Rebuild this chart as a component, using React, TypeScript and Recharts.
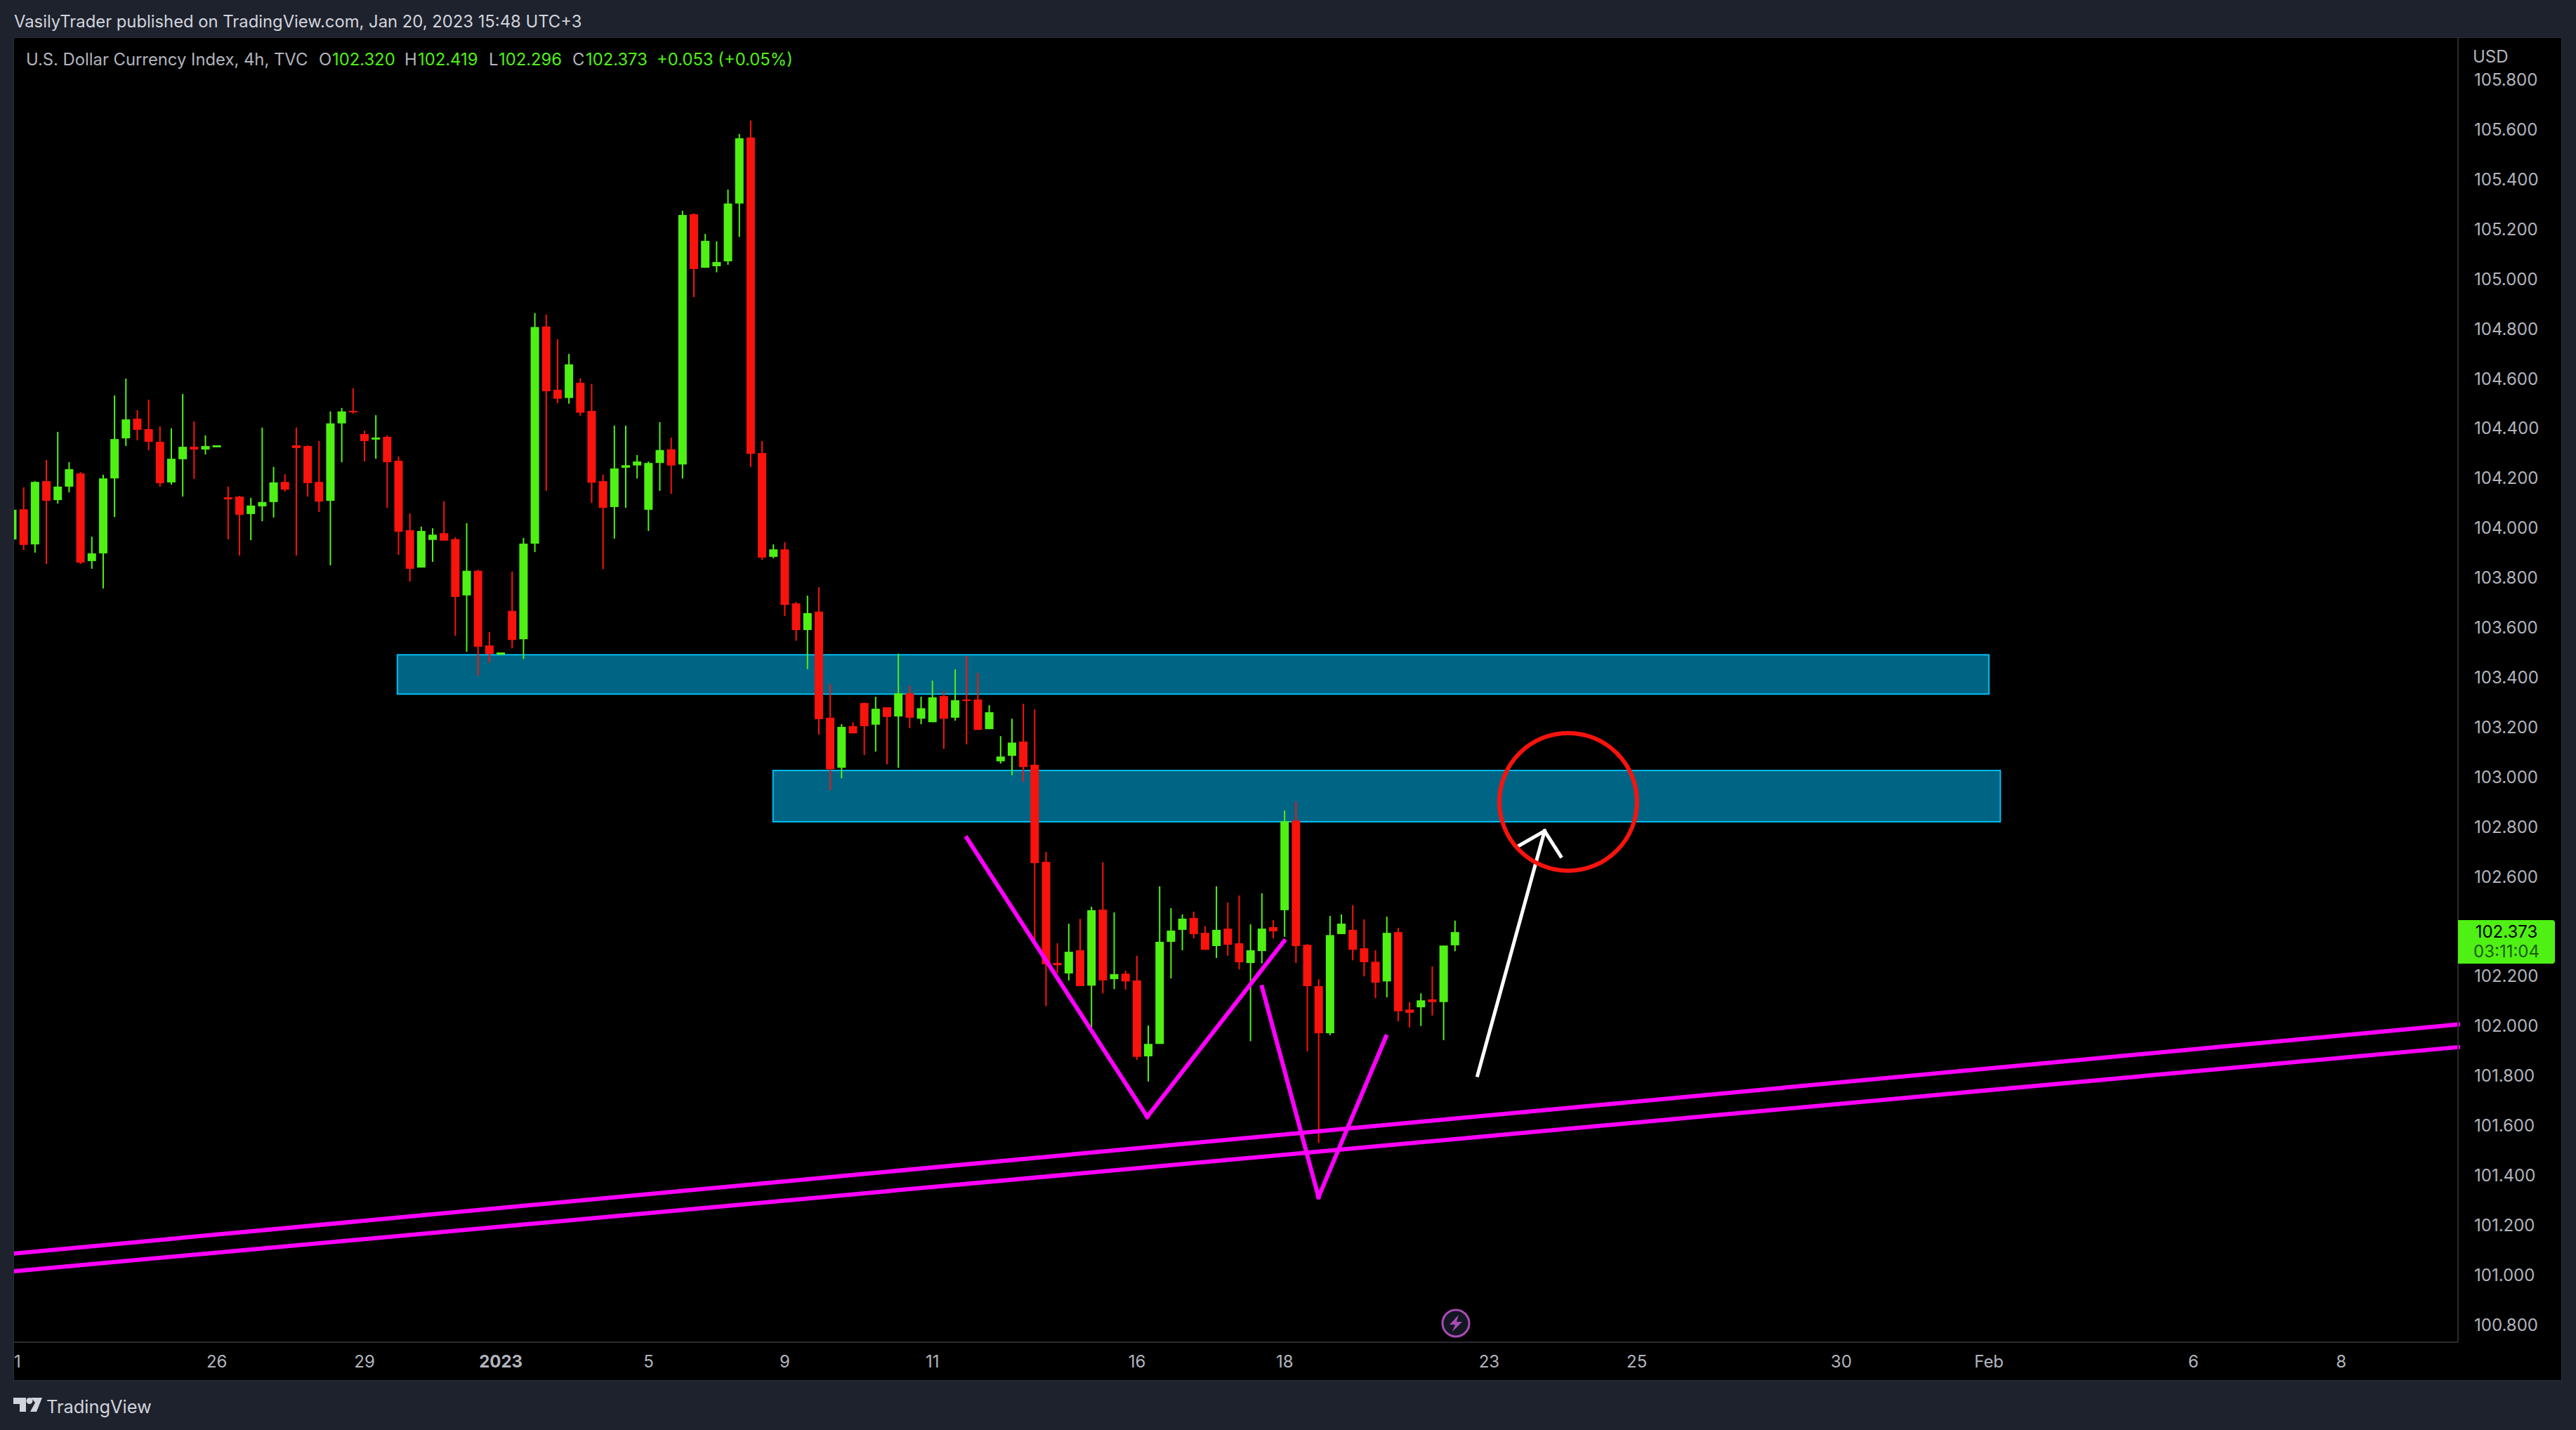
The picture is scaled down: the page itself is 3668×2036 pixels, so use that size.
import React from 'react';
import {
  ComposedChart, Bar, XAxis, YAxis, ReferenceArea, ReferenceLine, ReferenceDot
} from 'recharts';

// 4h candles
const opens = [
  103.950,104.071,103.930,104.184,104.108,104.162,104.215,103.863,103.894,104.195,
  104.356,104.435,104.393,104.342,104.179,104.272,104.322,104.311,104.320,104.119,
  104.122,104.052,104.083,104.100,104.181,104.328,104.325,104.181,104.105,104.416,
  104.466,104.373,104.351,104.362,104.266,103.987,103.837,103.948,103.975,103.951,
  103.725,103.824,103.524,103.487,103.663,103.549,103.933,104.805,104.551,104.518,
  104.579,104.466,104.184,104.080,104.238,104.247,104.069,104.257,104.312,104.251,
  105.256,105.041,105.047,105.067,105.299,105.564,104.297,103.880,103.910,103.693,
  103.586,103.660,103.234,103.033,103.200,103.293,103.206,103.276,103.239,103.332,
  103.230,103.216,103.321,103.234,103.307,103.307,103.188,103.059,103.081,103.138,
  103.045,102.655,102.249,102.207,102.300,102.158,102.463,102.184,102.206,102.179,
  101.874,101.924,102.334,102.382,102.430,102.370,102.317,102.387,102.328,102.249,
  102.297,102.393,102.461,102.821,102.322,102.156,101.967,102.365,102.382,102.308,
  102.254,102.175,102.373,102.062,102.071,102.103,102.092,102.320,
];
const highs = [
  104.069,104.159,104.184,104.269,104.382,104.260,104.221,103.961,104.210,104.528,
  104.596,104.469,104.511,104.404,104.396,104.534,104.424,104.368,104.328,104.162,
  104.125,104.117,104.399,104.241,104.212,104.399,104.328,104.345,104.464,104.478,
  104.557,104.387,104.449,104.368,104.283,104.054,104.001,103.995,104.103,103.959,
  104.015,103.828,103.578,103.496,103.821,103.956,104.859,104.853,104.754,104.695,
  104.597,104.574,104.210,104.407,104.407,104.289,104.263,104.421,104.359,105.270,
  105.259,105.177,105.147,105.355,105.578,105.632,104.345,103.930,103.939,103.699,
  103.724,103.758,103.369,103.208,103.216,103.295,103.318,103.276,103.491,103.363,
  103.318,103.383,103.339,103.428,103.482,103.414,103.284,103.160,103.230,103.290,
  103.267,102.695,102.328,102.407,102.426,102.475,102.653,102.452,102.218,102.278,
  101.998,102.557,102.469,102.444,102.455,102.396,102.557,102.492,102.520,102.404,
  102.529,102.421,102.861,102.897,102.325,102.184,102.438,102.444,102.481,102.424,
  102.300,102.435,102.390,102.092,102.127,102.235,102.319,102.419,
];
const lows = [
  103.950,103.908,103.897,103.851,104.094,104.139,103.851,103.832,103.753,104.040,
  104.325,104.348,104.308,104.162,104.170,104.122,104.193,104.291,104.320,103.950,
  103.885,103.947,104.023,104.038,104.142,103.885,104.122,104.060,103.846,104.260,
  104.455,104.263,104.274,104.077,103.888,103.781,103.837,103.860,103.945,103.563,
  103.499,103.403,103.455,103.487,103.513,103.470,103.899,104.145,104.497,104.495,
  104.447,104.097,103.831,103.953,104.077,104.195,103.984,104.145,104.133,104.195,
  104.923,105.041,105.023,105.053,105.165,104.241,103.868,103.874,103.642,103.543,
  103.429,103.166,102.943,102.991,103.171,103.084,103.098,103.047,103.033,103.192,
  103.208,103.216,103.109,103.222,103.127,103.185,103.188,103.050,103.003,102.977,
  102.319,102.076,102.209,102.179,102.156,101.988,102.127,102.144,102.142,101.860,
  101.773,101.924,102.187,102.300,102.348,102.302,102.269,102.278,102.223,101.935,
  102.247,102.348,102.354,102.249,101.894,101.527,101.959,102.365,102.260,102.195,
  102.108,102.111,102.015,101.990,101.996,102.038,101.939,102.296,
];
const closes = [
  104.069,103.928,104.181,104.105,104.162,104.232,103.857,103.894,104.195,104.353,
  104.432,104.390,104.342,104.176,104.274,104.322,104.311,104.325,104.328,104.111,
  104.049,104.086,104.100,104.179,104.150,104.317,104.176,104.102,104.416,104.464,
  104.461,104.345,104.359,104.260,103.981,103.832,103.984,103.969,103.945,103.719,
  103.824,103.519,103.490,103.496,103.546,103.933,104.803,104.545,104.515,104.653,
  104.459,104.178,104.077,104.235,104.248,104.263,104.257,104.309,104.247,105.253,
  105.036,105.149,105.064,105.299,105.561,104.294,103.877,103.910,103.687,103.586,
  103.654,103.228,103.027,103.197,103.171,103.200,103.270,103.237,103.332,103.234,
  103.272,103.316,103.230,103.304,103.302,103.185,103.256,103.078,103.134,103.036,
  102.650,102.244,102.240,102.294,102.156,102.461,102.179,102.204,102.175,101.872,
  101.924,102.334,102.379,102.427,102.365,102.302,102.382,102.322,102.252,102.300,
  102.387,102.376,102.818,102.317,102.156,101.967,102.361,102.407,102.302,102.252,
  102.170,102.370,102.055,102.049,102.099,102.092,102.319,102.373,
];

// time axis, in bar numbers
const timeTicks = [0, 18, 31, 43, 56, 68, 81, 99, 112, 130, 143, 161, 174, 192, 205];
const timeLabels = ['21', '26', '29', '2023', '5', '9', '11', '16', '18', '23', '25', '30', 'Feb', '6', '8'];

const priceTicks = [
  100.8, 101, 101.2, 101.4, 101.6, 101.8, 102, 102.2, 102.4, 102.6, 102.8, 103, 103.2,
  103.4, 103.6, 103.8, 104, 104.2, 104.4, 104.6, 104.8, 105, 105.2, 105.4, 105.6, 105.8,
];

// drawings, in bar number / price
const upperZone = { x1: 33.89, x2: 174.0, y1: 103.329, y2: 103.487 };
const lowerZone = { x1: 66.96, x2: 175.0, y1: 102.816, y2: 103.022 };
const trendA = [{ x: 0.148, y: 101.082 }, { x: 215.29, y: 102.002 }];
const trendB = [{ x: 0.148, y: 101.011 }, { x: 215.29, y: 101.911 }];
const firstV = [{ x: 84.02, y: 102.751 }, { x: 99.9, y: 101.631 }, { x: 111.95, y: 102.337 }];
const secondV = [{ x: 110.01, y: 102.152 }, { x: 114.98, y: 101.309 }, { x: 120.92, y: 101.953 }];
const arrowShaft = [{ x: 128.98, y: 101.798 }, { x: 134.88, y: 102.779 }];
const arrowHead = [{ x: 132.66, y: 102.721 }, { x: 134.88, y: 102.779 }, { x: 136.3, y: 102.678 }];
const targetCircle = { x: 136.96, y: 102.896 };

const candles = opens.map((open, i) => ({
  i,
  open,
  close: closes[i],
  range: [lows[i], highs[i]],
}));

const GREEN = '#4ff014';
const RED = '#f8130d';
const MAGENTA = '#ff00ff';
const FONT = 'Inter, sans-serif';

// wick + body, the bar itself spans low..high
const Candle = (props: any) => {
  const { x, y, width, height, payload } = props;
  const [low, high] = payload.range;
  const k = height / (high - low);
  const top = y + (high - Math.max(payload.open, payload.close)) * k;
  const bottom = y + (high - Math.min(payload.open, payload.close)) * k;
  const color = payload.close >= payload.open ? GREEN : RED;
  return (
    <g>
      <rect x={x + width / 2 - 1} y={y} width={2} height={height} fill={color} />
      <rect x={x} y={top} width={width} height={Math.max(bottom - top, 2)} fill={color} />
    </g>
  );
};

const TimeTick = ({ x, y, payload }: any) => {
  const label = timeLabels[timeTicks.indexOf(payload.value)];
  return (
    <text
      x={x}
      y={y + 28}
      textAnchor="middle"
      fontFamily={FONT}
      fontSize={24}
      fontWeight={label === '2023' ? 700 : 400}
      fill="#b2b5be"
    >
      {label}
    </text>
  );
};

const PriceTick = ({ x, y, payload }: any) => (
  <text x={x + 21} y={y + 10} fontFamily={FONT} fontSize={24} fill="#b2b5be">
    {payload.value.toFixed(3)}
  </text>
);

const segments = (points: { x: number; y: number }[], stroke: string, strokeWidth: number) =>
  points.slice(1).map((p, i) => (
    <ReferenceLine
      key={`${stroke}-${p.x}`}
      segment={[points[i], p]}
      stroke={stroke}
      strokeWidth={strokeWidth}
      strokeLinecap="square"
      ifOverflow="visible"
    />
  ));

const legendValue = (left: number, text: string, color: string) => (
  <span style={{ position: 'absolute', left, top: 71, color, whiteSpace: 'nowrap' }}>{text}</span>
);

export default function App() {
  return (
    <div style={{ position: 'absolute', left: 0, top: 0, width: 3668, height: 2036, background: '#1e222d', overflow: 'hidden', fontFamily: FONT }}>
      <div style={{ position: 'absolute', left: 20, top: 17, fontSize: 23.8, lineHeight: '28px', color: '#d1d4dc', whiteSpace: 'nowrap' }}>
        VasilyTrader published on TradingView.com, Jan 20, 2023 15:48 UTC+3
      </div>

      {/* chart panel */}
      <div style={{ position: 'absolute', left: 19, top: 53, width: 3629, height: 1913, background: '#000', boxSizing: 'border-box', border: '1px solid #2a2e39' }}>
        <ComposedChart
          width={3627}
          height={1911}
          data={candles}
          margin={{ top: 0, right: 0, bottom: 0, left: 0 }}
        >
          <XAxis
            dataKey="i"
            type="number"
            domain={[0.148, 215.29]}
            allowDataOverflow
            ticks={timeTicks}
            interval={0}
            height={54}
            tick={TimeTick}
            tickLine={false}
            axisLine={{ stroke: '#2a2a2e', strokeWidth: 2 }}
          />
          <YAxis
            orientation="right"
            domain={[100.726, 105.964]}
            allowDataOverflow
            ticks={priceTicks}
            interval={0}
            width={147}
            tickSize={0}
            tick={PriceTick}
            axisLine={{ stroke: '#2a2a2e', strokeWidth: 2 }}
          />

          <ReferenceArea {...upperZone} fill="#006585" fillOpacity={1} stroke="#00bcf2" strokeWidth={2} ifOverflow="visible" />
          <ReferenceArea {...lowerZone} fill="#006585" fillOpacity={1} stroke="#00bcf2" strokeWidth={2} ifOverflow="visible" />

          {segments(trendA, MAGENTA, 6)}
          {segments(trendB, MAGENTA, 6)}
          {segments(firstV, MAGENTA, 6)}
          {segments(secondV, MAGENTA, 6)}
          {segments(arrowShaft, '#ffffff', 5)}
          {segments(arrowHead, '#ffffff', 5)}
          <ReferenceDot {...targetCircle} r={98} fill="none" stroke={RED} strokeWidth={6} ifOverflow="visible" />

          <Bar dataKey="range" barSize={12} shape={Candle} isAnimationActive={false} />
        </ComposedChart>
      </div>

      {/* hides what falls left of the panel */}
      <div style={{ position: 'absolute', left: 0, top: 0, width: 19, height: 2036, background: '#1e222d' }} />

      {/* legend */}
      <div style={{ position: 'absolute', left: 0, top: 0, fontSize: 23.8, lineHeight: '28px' }}>
        {legendValue(37, 'U.S. Dollar Currency Index, 4h, TVC', '#b2b5be')}
        {legendValue(454, 'O', '#b2b5be')}
        {legendValue(473, '102.320', GREEN)}
        {legendValue(576, 'H', '#b2b5be')}
        {legendValue(595, '102.419', GREEN)}
        {legendValue(696, 'L', '#b2b5be')}
        {legendValue(710, '102.296', GREEN)}
        {legendValue(815, 'C', '#b2b5be')}
        {legendValue(834, '102.373', GREEN)}
        {legendValue(935, '+0.053 (+0.05%)', GREEN)}
      </div>

      <div style={{ position: 'absolute', left: 3521, top: 66, fontSize: 24, lineHeight: '30px', color: '#b2b5be' }}>USD</div>

      {/* last price tag */}
      <div style={{ position: 'absolute', left: 3500, top: 1310, width: 138, height: 62, background: GREEN, borderRadius: '0 4px 4px 0', textAlign: 'center', fontSize: 24, lineHeight: '28px' }}>
        <div style={{ color: '#000', marginTop: 3 }}>102.373</div>
        <div style={{ color: '#1c5c08' }}>03:11:04</div>
      </div>

      {/* bolt marker */}
      <svg style={{ position: 'absolute', left: 2050, top: 1862 }} width={46} height={46} viewBox="0 0 46 46">
        <circle cx={23} cy={22} r={19} fill="#131722" stroke="#a84cb4" strokeWidth={3} />
        <path d="M27 10 L14 24 L22 24 L18 34 L32 20 L24 20 Z" fill="#a84cb4" />
      </svg>

      {/* footer */}
      <svg style={{ position: 'absolute', left: 19, top: 1989 }} width={42} height={22} viewBox="0 0 42 22">
        <path d="M0 1 H18 V21 H9 V10 H0 Z M25 1 H41 L33 21 H24 L31 8 Z" fill="#d1d4dc" />
        <circle cx={23} cy={5.5} r={4.5} fill="#d1d4dc" />
      </svg>
      <div style={{ position: 'absolute', left: 66, top: 1988, fontSize: 25.4, lineHeight: '30px', color: '#d1d4dc' }}>TradingView</div>
    </div>
  );
}
